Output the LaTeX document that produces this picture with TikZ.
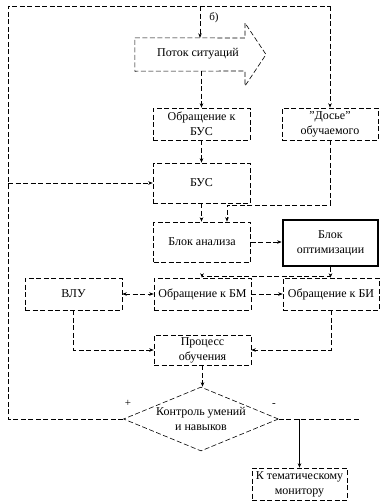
\documentclass[tikz,border=0pt]{standalone}
\usepackage{fontspec}
\setmainfont{Liberation Serif}
\usetikzlibrary{shapes.geometric,arrows.meta}
\begin{document}
\begin{tikzpicture}[x=1pt,y=-1pt,
  every node/.style={font=\fontsize{12}{15}\selectfont},
  dline/.style={draw, dash pattern=on 5pt off 2.5pt, line width=0.6pt},
  box/.style={dline, rectangle, align=center, inner sep=1pt, minimum width=97pt, minimum height=32pt},
  thickbox/.style={draw, line width=2.8pt, rectangle, align=center, inner sep=1pt, minimum width=95pt, minimum height=46pt},
  ln/.style={dline},
  arr/.style={dline, -{Stealth[length=4.5pt,width=3.5pt]}},
  solidarr/.style={draw, line width=0.6pt, -{Stealth[length=4.5pt,width=3.5pt]}},
  dbl/.style={dline, {Stealth[length=4.5pt,width=3.5pt]}-{Stealth[length=4.5pt,width=3.5pt]}},
  signlabel/.style={font=\fontsize{11}{12}\selectfont, inner sep=0pt}
]
\useasboundingbox (0,0) rectangle (388,501);

% block arrow "flow of situations"
\node[minimum width=110pt, minimum height=33pt, inner sep=0pt] (flow) at (190,54.5) {};
\draw[dline] (flow.north west) -- (245,38) -- (245,23) -- (266,54.5) -- (245,86) -- (245,71) -- (flow.south west) -- cycle;
\node (flowtxt) at (198,54) {Поток ситуаций};

\node[box] (obus) at (201.5,124) {Обращение к\\БУС};
\node[box, minimum width=96pt] (dos) at (330,124) {"Досье"\\обучаемого};
\node[box, minimum height=40pt] (bus) at (201.5,183) {БУС};
\node[box, minimum height=40pt] (anal) at (202,242) {Блок анализа};
\node[thickbox] (opt) at (330.5,243) {Блок\\оптимизации};
\node[box] (vlu) at (73.5,294) {ВЛУ};
\node[box] (obm) at (202.5,294) {Обращение к БМ};
\node[box, minimum width=96pt] (obi) at (331,294) {Обращение к БИ};
\node[box, minimum height=30pt] (proc) at (202.5,350) {Процесс\\обучения};
\node[dline, diamond, aspect=2.4, minimum width=155pt, minimum height=64pt, inner sep=0pt, align=center] (dia) at (201,419) {Контроль умений\\и навыков};
\node[box, minimum width=95pt] (mon) at (299.5,484) {К тематическому\\монитору};

\node[signlabel] (lab) at (214,18) {б)};
\node[signlabel] (plus) at (128,403) {+};
\node[signlabel] (minus) at (274,405) {-};

\coordinate (cl) at (8,419);
\coordinate (ctl) at (8,6);
\coordinate (ctr) at (330,6);
\coordinate (t2) at (200,6);
\coordinate (d1) at (227,205);
\coordinate (s1) at (202,276);
\coordinate (r1) at (360,419);

% main feedback loop
\draw[ln] (dia.west) -- (cl) -- (ctl) -- (ctr);
\draw[arr] (ctr) -- (dos.north);
\draw[arr] (t2) -- (t2 |- flow.north);
\draw[arr] (cl |- bus.west) -- (bus.west);

% vertical chain
\draw[arr] (obus.north |- flow.south) -- (obus.north);
\draw[arr] (obus.south) -- (bus.north);
\draw[arr] (bus.south) -- (bus.south |- anal.north);
\draw[arr] (dos.south) |- (d1) -- (d1 |- anal.north);
\draw[arr] (anal.east) -- (anal.east -| opt.west);

% from optimisation block
\draw[ln] (opt.south) |- (s1);
\draw[arr] (s1) -- (s1 |- obm.north);
\draw[arr] (opt.south |- s1) -- (opt.south |- obi.north);

\draw[dbl] (vlu.east) -- (obm.west);
\draw[arr] (obm.east) -- (obi.west);
\draw[arr] (vlu.south) |- (proc.west);
\draw[arr] (obi.south) |- (proc.east);
\draw[arr] (proc.south) -- (proc.south |- dia.north);

% exit
\draw[ln] (dia.east) -- (r1);
\draw[solidarr] (mon.north |- dia.east) -- (mon.north);
\end{tikzpicture}
\end{document}
